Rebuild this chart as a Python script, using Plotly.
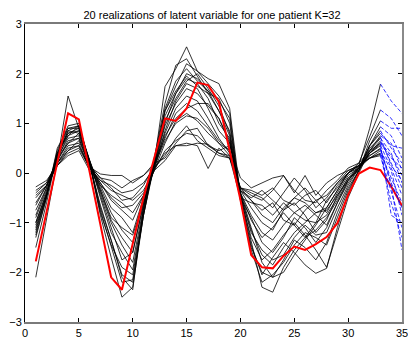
"""
Latent variable realizations for one patient (K=32)
"""

import plotly.graph_objects as go

# time steps
x_obs = list(range(1, 34))      # 1..33, sampled realizations
x_pred = [33, 34, 35]           # forecast part (dashed)
x_red = list(range(1, 36))      # 1..35, highlighted realization

# 20 realizations, values at x = 1..33
real_01 = [-2.10, -0.90, 0.25, 1.55, 0.90, 0.20, -0.85, -1.70, -2.50, -2.30, -0.85, 0.20, 1.74, 2.10, 2.54, 2.05, 1.90, 1.80, 1.30, -0.45, -1.35, -2.30, -2.40, -1.90, -1.55, -1.30, -1.15, -0.90, -0.55, -0.15, 0.15, 0.90, 1.79]
real_02 = [-1.20, -0.45, 0.45, 0.95, 1.00, 0.15, -0.65, -1.35, -2.10, -2.35, -0.70, 0.30, 1.40, 2.17, 2.30, 1.95, 1.60, 1.25, 0.85, -0.40, -1.10, -1.80, -2.10, -2.00, -1.65, -1.35, -1.05, -0.70, -0.35, 0.00, 0.20, 0.75, 1.27]
real_03 = [-0.28, -0.15, 0.15, 0.45, 0.55, 0.12, -0.02, -0.05, -0.05, -0.20, -0.05, 0.20, 0.30, 0.60, 0.85, 0.90, 0.55, 0.45, 0.55, -0.10, -0.30, -0.20, -0.10, -0.05, -0.40, -0.05, -0.45, -0.20, -0.05, 0.05, 0.15, 0.30, 0.40]
real_04 = [-0.35, -0.20, 0.25, 0.60, 0.70, 0.15, -0.10, -0.15, -0.30, -0.15, -0.05, 0.15, 0.80, 1.30, 1.55, 1.45, 1.10, 0.70, 0.40, -0.30, -0.45, -0.55, -0.35, -0.05, -0.35, -0.55, -0.60, -0.35, -0.15, 0.10, 0.20, 0.45, 0.60]
real_05 = [-0.45, -0.25, 0.15, 0.35, 0.45, 0.05, -0.25, -0.45, -0.60, -0.80, -0.45, 0.10, 0.40, 0.55, 0.60, 0.55, 0.09, 0.50, 0.30, -0.50, -0.60, -0.65, -0.85, -0.60, -0.80, -0.95, -1.00, -0.55, -0.30, 0.00, 0.10, 0.30, 0.35]
real_06 = [-1.00, -0.40, 0.35, 0.80, 0.85, 0.25, -0.35, -0.95, -1.30, -1.60, -0.60, 0.15, 1.00, 1.60, 1.90, 1.80, 1.50, 1.00, 0.70, -0.50, -0.90, -1.40, -1.60, -1.30, -0.90, -1.10, -1.40, -1.10, -0.60, -0.20, 0.10, 0.55, 0.93]
real_07 = [-0.75, -0.30, 0.30, 0.70, 0.75, 0.20, -0.25, -0.70, -0.90, -1.20, -0.50, 0.20, 0.70, 1.20, 1.40, 1.25, 0.95, 0.65, 0.45, -0.35, -0.70, -1.00, -1.15, -0.75, -0.60, -0.85, -1.20, -0.95, -0.45, -0.10, 0.05, 0.40, 0.65]
real_08 = [-1.30, -0.50, 0.50, 0.90, 0.95, 0.20, -0.80, -1.45, -1.90, -2.05, -0.80, 0.25, 1.30, 1.85, 2.10, 1.85, 1.65, 1.45, 1.10, -0.55, -1.50, -2.00, -2.10, -1.75, -1.35, -1.50, -1.75, -1.40, -0.80, -0.30, 0.05, 0.55, 0.80]
real_09 = [-0.90, -0.35, 0.20, 0.55, 0.60, 0.10, -0.15, -0.35, -0.45, -0.55, -0.35, 0.05, 0.25, 0.55, 0.55, 0.60, 0.58, 0.40, 0.30, -0.30, -0.35, -0.45, -0.30, -0.55, -0.65, -0.45, -0.35, -0.60, -0.25, 0.00, 0.15, 0.30, 0.45]
real_10 = [-1.10, -0.45, 0.35, 0.85, 0.80, 0.20, -0.40, -1.00, -1.45, -1.80, -0.70, 0.15, 0.95, 1.40, 1.70, 1.60, 1.35, 1.10, 0.60, -0.45, -1.15, -1.65, -1.85, -1.50, -1.20, -1.00, -0.80, -0.75, -0.45, -0.15, 0.10, 0.45, 0.70]
real_11 = [-0.60, -0.25, 0.25, 0.65, 0.70, 0.15, -0.20, -0.55, -0.75, -0.95, -0.45, 0.05, 0.60, 1.05, 1.20, 1.05, 0.80, 0.60, 0.45, -0.35, -0.55, -0.75, -0.60, -0.95, -1.05, -0.75, -0.55, -0.80, -0.40, -0.05, 0.10, 0.35, 0.50]
real_12 = [-1.25, -0.50, 0.40, 0.80, 0.90, 0.25, -0.50, -1.20, -1.60, -1.95, -0.75, 0.20, 1.15, 1.60, 2.00, 1.90, 1.65, 1.25, 0.75, -0.50, -1.30, -1.75, -1.55, -1.25, -1.00, -1.25, -1.55, -1.90, -1.20, -0.50, 0.00, 0.45, 0.75]
real_13 = [-0.85, -0.30, 0.30, 0.75, 0.95, 0.25, -0.30, -0.80, -1.15, -1.40, -0.55, 0.10, 0.85, 1.45, 1.80, 1.70, 1.30, 0.85, 0.60, -0.40, -0.85, -1.20, -1.35, -1.05, -0.80, -0.65, -0.85, -1.05, -0.60, -0.15, 0.10, 0.40, 0.55]
real_14 = [-0.50, -0.25, 0.15, 0.40, 0.50, 0.10, -0.15, -0.25, -0.40, -0.35, -0.20, 0.10, 0.35, 0.70, 0.95, 0.65, 0.50, 0.35, 0.30, -0.30, -0.40, -0.50, -0.70, -0.40, -0.10, -0.35, -0.70, -0.50, -0.20, 0.00, 0.15, 0.30, 0.38]
real_15 = [-1.50, -0.60, 0.40, 0.75, 0.85, 0.20, -0.75, -1.50, -2.20, -2.15, -0.85, 0.15, 1.25, 1.75, 2.20, 2.05, 1.80, 1.55, 1.20, -0.55, -1.55, -2.20, -2.05, -1.80, -1.45, -1.20, -1.30, -1.45, -0.90, -0.35, 0.05, 0.65, 1.05]
real_16 = [-1.00, -0.40, 0.30, 0.60, 0.80, 0.15, -0.35, -0.90, -1.10, -1.25, -0.60, 0.10, 0.75, 1.10, 1.30, 1.40, 1.40, 1.10, 0.65, -0.40, -0.95, -1.30, -1.10, -0.80, -1.05, -1.30, -1.00, -0.85, -0.50, -0.10, 0.10, 0.40, 0.62]
real_17 = [-1.15, -0.45, 0.40, 0.90, 0.90, 0.25, -0.45, -1.10, -1.75, -1.60, -0.65, 0.20, 1.05, 1.50, 1.85, 2.00, 1.70, 1.35, 0.80, -0.45, -1.20, -1.55, -1.75, -1.65, -1.30, -1.05, -1.25, -1.20, -0.70, -0.25, 0.10, 0.55, 0.85]
real_18 = [-0.65, -0.25, 0.20, 0.50, 0.55, 0.10, -0.20, -0.50, -0.70, -0.65, -0.40, 0.05, 0.45, 0.65, 0.80, 0.75, 0.55, 0.40, 0.35, -0.30, -0.55, -0.85, -1.00, -0.70, -0.50, -0.60, -0.80, -0.70, -0.35, 0.00, 0.15, 0.35, 0.48]
real_19 = [-0.40, -0.20, 0.20, 0.45, 0.65, 0.15, -0.10, -0.30, -0.55, -0.50, -0.25, 0.15, 0.65, 1.00, 1.15, 1.10, 0.90, 0.60, 0.35, -0.35, -0.50, -0.35, -0.55, -0.75, -0.50, -0.30, -0.55, -0.45, -0.20, 0.05, 0.15, 0.40, 0.58]
real_20 = [-1.05, -0.45, 0.35, 0.85, 0.95, 0.20, -0.70, -1.35, -2.05, -2.20, -0.85, 0.25, 1.25, 1.65, 1.95, 1.75, 1.60, 1.50, 1.00, -0.50, -1.45, -2.05, -1.70, -1.40, -1.60, -1.85, -2.02, -1.92, -1.10, -0.40, 0.05, 0.50, 0.72]

realizations = [real_01, real_02, real_03, real_04, real_05, real_06, real_07, real_08, real_09, real_10,
                real_11, real_12, real_13, real_14, real_15, real_16, real_17, real_18, real_19, real_20]

# forecast values at x = 34 and 35 for each realization (starts from its x=33 value)
pred_34 = [1.45, 1.10, -0.10, 0.30, -0.40, 0.75, 0.20, 0.55, 0.05, 0.40,
           -0.20, 0.60, 0.10, -0.60, 0.90, 0.35, 0.50, -0.25, -0.85, 0.15]
pred_35 = [1.20, 0.75, -0.60, 0.10, -1.10, 0.30, -0.30, 0.50, -0.85, -0.20,
           -0.70, 0.05, -0.45, -1.30, 0.90, -0.05, 0.20, -1.55, -1.00, -0.15]

# highlighted realization, x = 1..35
red_line = [-1.78, -0.80, 0.21, 1.20, 1.08, 0.03, -1.04, -2.10, -2.35, -1.45, -0.50, 0.30, 1.10, 1.05,
            1.30, 1.82, 1.77, 1.43, 0.46, -0.54, -1.65, -1.90, -1.92, -1.67, -1.48, -1.55, -1.43, -1.29,
            -1.01, -0.44, -0.01, 0.11, 0.06, -0.27, -0.66]

x_ticks = [0, 5, 10, 15, 20, 25, 30, 35]
y_ticks = [-3, -2, -1, 0, 1, 2, 3]

fig = go.Figure()

for vals in realizations:
    fig.add_trace(go.Scatter(
        x=x_obs, y=vals, mode='lines',
        line=dict(color='black', width=0.8),
        hoverinfo='skip', showlegend=False
    ))

for vals, p34, p35 in zip(realizations, pred_34, pred_35):
    fig.add_trace(go.Scatter(
        x=x_pred, y=[vals[-1], p34, p35], mode='lines',
        line=dict(color='blue', width=0.8, dash='4px,2px'),
        hoverinfo='skip', showlegend=False, yaxis='y2'
    ))

fig.add_trace(go.Scatter(
    x=x_red, y=red_line, mode='lines',
    line=dict(color='#ff0000', width=2),
    hoverinfo='skip', showlegend=False
))

font = dict(family='Liberation Sans, Arial, sans-serif', size=11, color='black')

# the page body adds an 8px offset, so the figure is a bit smaller than the window
fig.update_layout(
    width=408, height=348,
    margin=dict(l=17, r=14, t=16, b=34),
    paper_bgcolor='white', plot_bgcolor='white',
    font=font,
    title=dict(
        text='20 realizations of latent variable for one patient K=32',
        font=dict(family='Liberation Sans, Arial, sans-serif', size=11, color='black'),
        x=0.5, xanchor='center', y=0.979, yanchor='middle'
    ),
    xaxis=dict(
        range=[0, 35], tickvals=x_ticks, ticks='inside', ticklen=4, tickcolor='black',
        showline=True, linecolor='#7a7a7a', linewidth=2, mirror='ticks',
        showgrid=False, zeroline=False, tickfont=font, automargin=False
    ),
    yaxis=dict(
        range=[-3, 3], tickvals=y_ticks, ticks='inside', ticklen=4, tickcolor='black',
        showline=True, linecolor='black', linewidth=1,
        showgrid=False, zeroline=False, tickfont=font, automargin=False
    ),
    yaxis2=dict(
        range=[-3, 3], tickvals=y_ticks, ticks='inside', ticklen=4, tickcolor='black',
        overlaying='y', side='right', showticklabels=False,
        showline=True, linecolor='#8a8a8a', linewidth=2,
        showgrid=False, zeroline=False, automargin=False
    )
)

fig.write_html("out.html")
